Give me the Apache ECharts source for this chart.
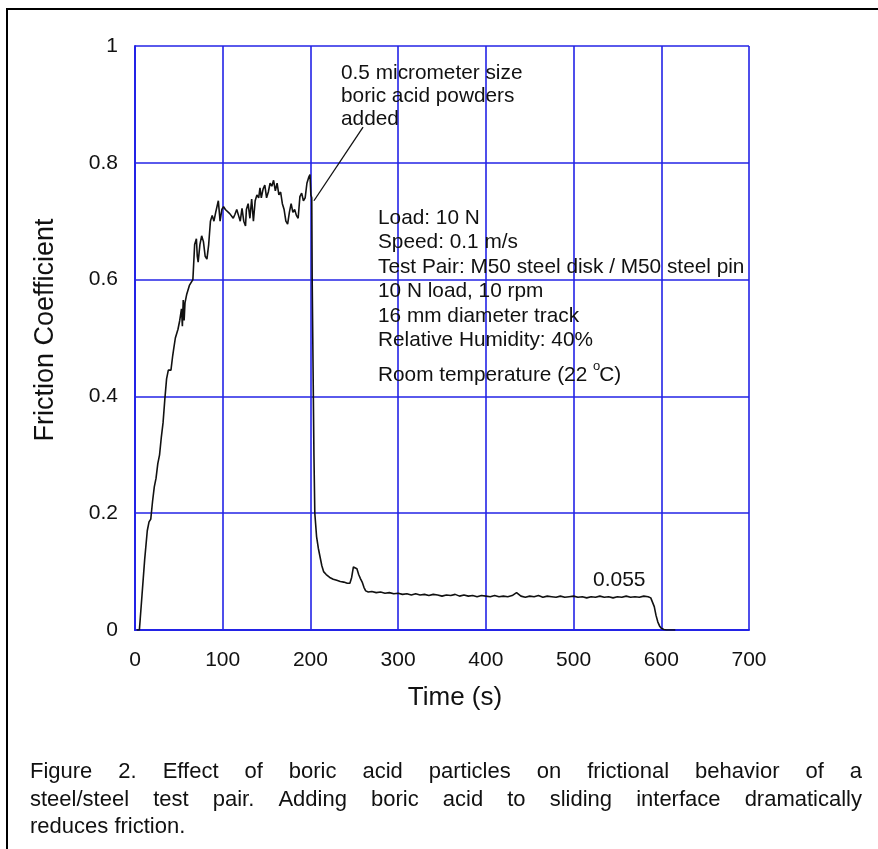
<!DOCTYPE html>
<html><head><meta charset="utf-8">
<script src="https://cdn.jsdelivr.net/npm/echarts@6/dist/echarts.min.js"></script>
<style>html,body{margin:0;padding:0;background:#fff}#c{width:878px;height:849px}</style>
</head><body><div id="c"></div>
<script>
// ---- data ----
const timeS = [2,5,8,11,14,16,18,20,22,24,26,28,30,32,34,36,38,41,43,44,46,49,51,53,54,55,56,57,59,62,64,66,67,68,70,71,72,74,76,78,80,82,84,86,88,90,92,95,97,99,101,103,105,108,110,112,114,116,118,120,122,124,126,127,129,131,133,135,137,139,141,142.5,144,146,148,150,152,154,156,158,160,162,164,166,168,170,172,174,176,178,180,182,184,186,188,190,192,194,196,198,199.5,200.5,201.5,202,203,204,205,207,209,211,213,215,218,222,226,230,234,238,242,245,247,249,251,253,255,257,259,261,263,266,270,275,280,285,290,
  295,300,305,310,315,320,325,330,335,340,
  345,350,355,360,365,370,375,380,385,390,
  395,400,405,410,415,420,425,430,435,440,
  445,450,455,460,465,470,475,480,485,490,
  495,500,505,510,515,520,525,530,535,540,
  545,550,555,560,565,570,575,580,585,588,
  590,592,594,596,598,600,603,606,616];
const friction = [0,0,0.06,0.12,0.17,0.185,0.19,0.22,0.245,0.26,0.285,0.30,0.33,0.355,0.395,0.43,0.445,0.445,0.47,0.48,0.50,0.515,0.53,0.55,0.52,0.565,0.53,0.56,0.575,0.59,0.59,0.60,0.63,0.66,0.67,0.64,0.63,0.66,0.675,0.665,0.64,0.635,0.66,0.70,0.71,0.70,0.715,0.735,0.70,0.72,0.725,0.72,0.718,0.713,0.71,0.705,0.712,0.72,0.71,0.70,0.722,0.70,0.692,0.72,0.73,0.705,0.738,0.70,0.735,0.745,0.74,0.757,0.74,0.755,0.762,0.74,0.75,0.765,0.76,0.77,0.752,0.765,0.745,0.75,0.73,0.72,0.70,0.695,0.715,0.73,0.715,0.72,0.71,0.705,0.742,0.748,0.735,0.74,0.765,0.775,0.78,0.745,0.74,0.6,0.45,0.30,0.20,0.16,0.14,0.125,0.11,0.10,0.095,0.09,0.087,0.085,0.083,0.082,0.080,0.080,0.09,0.108,0.11,0.105,0.095,0.088,0.082,0.073,0.067,0.065,0.066,0.064,0.065,0.063,0.064,
  0.062,0.063,0.061,0.062,0.060,0.062,0.060,0.061,0.059,0.061,
  0.060,0.058,0.060,0.059,0.061,0.058,0.060,0.058,0.059,0.057,
  0.059,0.058,0.057,0.059,0.057,0.058,0.057,0.059,0.064,0.058,
  0.056,0.058,0.057,0.059,0.056,0.058,0.057,0.056,0.058,0.056,
  0.057,0.058,0.056,0.057,0.055,0.057,0.056,0.058,0.056,0.057,
  0.055,0.057,0.056,0.058,0.056,0.057,0.056,0.058,0.057,0.055,
  0.054,0.040,0.025,0.014,0.007,0.003,0.001,0,0];
const xTickMin = 0, xTickMax = 700, xTickStep = 100;
const yTickMin = 0, yTickMax = 1, yTickStep = 0.2;
const leader = [[204, 0.735], [260, 0.861]];
const noteTop = ['0.5 micrometer size', 'boric acid powders', 'added'];
const noteInfo = ['Load: 10 N', 'Speed: 0.1 m/s', 'Test Pair: M50 steel disk / M50 steel pin', '10 N load, 10 rpm', '16 mm diameter track', 'Relative Humidity: 40%'];
const captionLines = ['Figure 2. Effect of boric acid particles on frictional behavior of a', 'steel/steel test pair. Adding boric acid to sliding interface dramatically', 'reduces friction.'];

// ---- chart ----
const FONT = '"Liberation Sans", Arial, sans-serif';
const BLUE = '#2323e6';
const chart = echarts.init(document.getElementById('c'), null, {renderer: 'canvas'});
const ctx = document.createElement('canvas').getContext('2d');
function w(t, size) { ctx.font = size + 'px ' + FONT; return ctx.measureText(t).width; }

const graphics = [];
graphics.push({type: 'rect', shape: {x: 7, y: 9, width: 900, height: 900}, style: {fill: 'none', stroke: '#000', lineWidth: 2}, z: 10});
function txt(x, y, text, size, extra) {
  graphics.push(Object.assign({type: 'text', x: x, y: y, style: {text: text, font: size + 'px ' + FONT, fill: '#111', textVerticalAlign: 'middle', textAlign: 'left'}, z: 20}, extra || {}));
}
const NS = 20.8;
noteTop.forEach((t, i) => txt(341, 73 + i * 23, t, NS));
const infoY = [218, 242.5, 267, 291.5, 316, 340];
noteInfo.forEach((t, i) => txt(378, infoY[i], t, NS));
const rt = 'Room temperature (22 ';
txt(378, 375, rt, NS);
const rw = w(rt, NS);
txt(378 + rw, 366, 'o', 13);
txt(378 + rw + w('o', 13) - 1, 375, 'C)', NS);
txt(593, 580, '0.055', 21);

// axis titles
graphics.push({type: 'text', x: 455, y: 698, style: {text: 'Time (s)', font: '26px ' + FONT, fill: '#111', textAlign: 'center', textVerticalAlign: 'middle'}, z: 20});
graphics.push({type: 'text', x: 46, y: 330, rotation: Math.PI / 2, style: {text: 'Friction Coefficient', font: '27px ' + FONT, fill: '#111', textAlign: 'center', textVerticalAlign: 'middle'}, z: 20});

// justified caption
const CAP = 22, capL = 30, capR = 862, capY = [772, 800, 827];
captionLines.forEach((line, li) => {
  if (li === captionLines.length - 1) { txt(capL, capY[li], line, CAP); return; }
  const words = line.split(' ');
  const tot = words.reduce((s, x) => s + w(x, CAP), 0);
  const gap = (capR - capL - tot) / (words.length - 1);
  let x = capL;
  words.forEach(word => { txt(x, capY[li], word, CAP); x += w(word, CAP) + gap; });
});

const data = timeS.map((t, i) => [t, friction[i]]);
chart.setOption({
  animation: false,
  backgroundColor: '#fff',
  grid: {left: 135, right: 129, top: 46, bottom: 219},
  xAxis: {
    type: 'value', min: xTickMin, max: xTickMax, interval: xTickStep,
    axisLine: {show: true, lineStyle: {color: BLUE, width: 2}},
    axisTick: {show: false},
    axisLabel: {fontFamily: FONT, fontSize: 21, color: '#111', margin: 20},
    splitLine: {show: true, lineStyle: {color: BLUE, width: 1.6}}
  },
  yAxis: {
    type: 'value', min: yTickMin, max: yTickMax, interval: yTickStep,
    axisLine: {show: true, lineStyle: {color: BLUE, width: 2}},
    axisTick: {show: false},
    axisLabel: {fontFamily: FONT, fontSize: 21, color: '#111', margin: 17},
    splitLine: {show: true, lineStyle: {color: BLUE, width: 1.6}}
  },
  series: [{
    type: 'line', data: data, showSymbol: false, symbol: 'none',
    lineStyle: {color: '#111', width: 1.6}, z: 5,
    markLine: {
      silent: true, symbol: ['none', 'none'], label: {show: false},
      lineStyle: {color: '#111', width: 1.3, type: 'solid'},
      data: [[{coord: leader[0]}, {coord: leader[1]}]]
    }
  }],
  graphic: graphics
});
</script></body></html>
